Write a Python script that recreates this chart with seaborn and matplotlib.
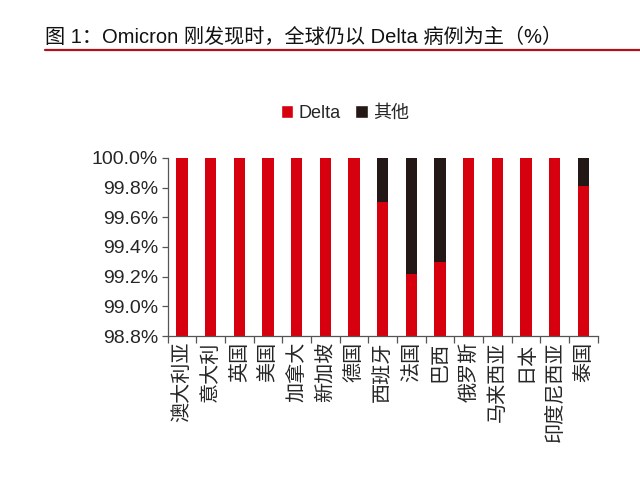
import numpy as np
import pandas as pd
import matplotlib
matplotlib.use("Agg")
import matplotlib.pyplot as plt
import matplotlib.ticker as mticker
from matplotlib.patches import Patch
import seaborn as sns

countries = ["澳大利亚", "意大利", "英国", "美国", "加拿大", "新加坡", "德国", "西班牙",
             "法国", "巴西", "俄罗斯", "马来西亚", "日本", "印度尼西亚", "泰国"]
delta_pct = [100.0, 100.0, 100.0, 100.0, 100.0, 100.0, 100.0, 99.70,
             99.22, 99.30, 100.0, 100.0, 100.0, 100.0, 99.81]
total_pct = [100.0] * len(countries)

RED = "#D7000F"
DARK = "#231815"

sns.set_style("white")
plt.rcParams["font.family"] = ["Liberation Sans", "Noto Sans CJK SC", "DejaVu Sans"]

df = pd.DataFrame({"country": countries, "Delta": delta_pct, "total": total_pct})

fig = plt.figure(figsize=(6.4, 4.92), dpi=100)
ax = fig.add_axes([0.262, 0.317, 0.672, 0.362])

# "其他" drawn as the full bar, Delta on top of it
sns.barplot(data=df, x="country", y="total", color=DARK, width=0.4,
            saturation=1, linewidth=0, ax=ax)
sns.barplot(data=df, x="country", y="Delta", color=RED, width=0.4,
            saturation=1, linewidth=0, ax=ax)

ax.set_ylim(98.8, 100.0)
ax.set_xlim(-0.5, len(countries) - 0.5)
ax.yaxis.set_major_locator(mticker.MultipleLocator(0.2))
ax.yaxis.set_major_formatter(mticker.FuncFormatter(lambda v, p: f"{v:.1f}%"))
ax.set_xlabel("")
ax.set_ylabel("")

for s in ["top", "right"]:
    ax.spines[s].set_visible(False)
for s in ["left", "bottom"]:
    ax.spines[s].set_color("#555555")
    ax.spines[s].set_linewidth(0.9)

ax.tick_params(axis="y", which="major", left=True, length=4, width=0.9,
               color="#555555", labelsize=14, pad=3)
ax.tick_params(axis="x", which="major", bottom=False, length=0, labelsize=14.5,
               pad=4)
ax.set_xticks(np.arange(-0.5, len(countries)), minor=True)
ax.tick_params(axis="x", which="minor", bottom=True, length=5, width=0.9,
               color="#555555")
for lab in ax.get_xticklabels():
    lab.set_rotation(90)
    lab.set_va("top")
    lab.set_ha("center")

handles = [Patch(facecolor=RED, label="Delta"), Patch(facecolor=DARK, label="其他")]
fig.legend(handles=handles, loc="center", bbox_to_anchor=(0.539, 0.770), ncol=2,
           frameon=False, fontsize=13, handlelength=0.7, handleheight=0.7,
           handletextpad=0.3, columnspacing=0.8)

fig.text(0.07, 0.925, "图 1：Omicron 刚发现时，全球仍以 Delta 病例为主（%）",
         fontsize=14.5, ha="left", va="center", color="#111111")
fig.add_artist(plt.Line2D([0.07, 1.0], [0.898, 0.898], color="#B0101A",
                          linewidth=1.6, transform=fig.transFigure))

fig.savefig("out.png", dpi=100, facecolor="white")
